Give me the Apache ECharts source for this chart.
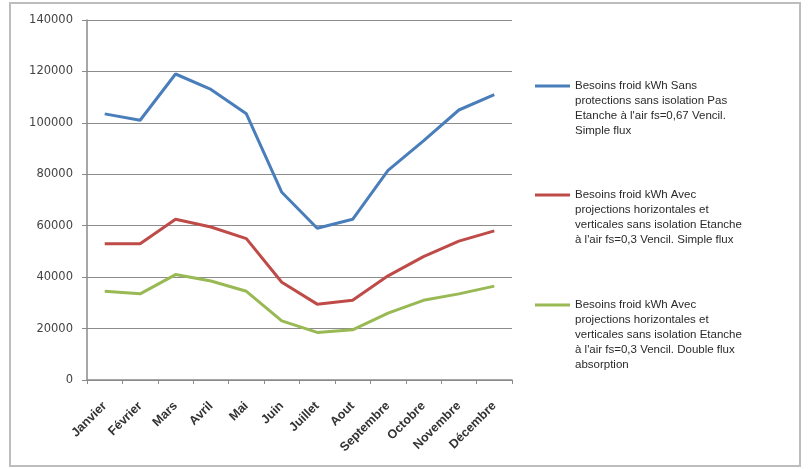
<!DOCTYPE html>
<html>
<head>
<meta charset="utf-8">
<script src="https://cdn.jsdelivr.net/npm/echarts@6/dist/echarts.min.js"></script>
<style>
  html, body { margin: 0; padding: 0; background: #fff; }
  #chart { width: 808px; height: 469px; }
</style>
</head>
<body>
<div id="chart"></div>
<script>
// Monthly cooling needs (kWh) for three building configurations
const months = ['Janvier', 'Février', 'Mars', 'Avril', 'Mai', 'Juin', 'Juillet', 'Aout', 'Septembre', 'Octobre', 'Novembre', 'Décembre'];

const nameSansProtection = 'Besoins froid kWh Sans protections sans isolation Pas Etanche à l\'air fs=0,67 Vencil. Simple flux';
const nameSimpleFlux = 'Besoins froid kWh Avec projections horizontales et verticales sans isolation Etanche à l\'air fs=0,3 Vencil. Simple flux';
const nameDoubleFlux = 'Besoins froid kWh Avec projections horizontales et verticales sans isolation Etanche à l\'air fs=0,3 Vencil. Double flux absorption';

const sansProtection = [103500, 101000, 119000, 113000, 103500, 73000, 59000, 62500, 81500, 93000, 105000, 111000];
const simpleFlux = [53000, 53000, 62500, 59500, 55000, 38000, 29500, 31000, 40500, 48000, 54000, 58000];
const doubleFlux = [34500, 33500, 41000, 38500, 34500, 23000, 18500, 19500, 26000, 31000, 33500, 36500];

const yTicks = [0, 20000, 40000, 60000, 80000, 100000, 120000, 140000];

// Wrapped legend text, one entry per line
const legendLines = {};
legendLines[nameSansProtection] = ['Besoins froid kWh Sans', 'protections sans isolation Pas', 'Etanche à l\'air fs=0,67 Vencil.', 'Simple flux'];
legendLines[nameSimpleFlux] = ['Besoins froid kWh Avec', 'projections horizontales et', 'verticales sans isolation Etanche', 'à l\'air fs=0,3 Vencil. Simple flux'];
legendLines[nameDoubleFlux] = ['Besoins froid kWh Avec', 'projections horizontales et', 'verticales sans isolation Etanche', 'à l\'air fs=0,3 Vencil. Double flux', 'absorption'];

const LINE_H = 15;
// iconY: vertical position of the legend line; the first text line sits level with it
function legendFor(name, iconY) {
  const lines = legendLines[name];
  const pad = new Array(lines.length - 1).fill(' ');
  const blockH = (2 * lines.length - 1) * LINE_H;
  return {
    data: [name],
    orient: 'vertical',
    left: 535,
    top: iconY - blockH / 2,
    padding: 0,
    icon: 'rect',
    itemWidth: 35,
    itemHeight: 3,
    itemGap: 0,
    formatter: function () { return pad.concat(lines).join('\n'); },
    textStyle: {
      fontFamily: 'Liberation Sans, Arial, sans-serif',
      fontSize: 11.5,
      color: '#2a2a2a',
      lineHeight: LINE_H
    }
  };
}

const chart = echarts.init(document.getElementById('chart'), null, { renderer: 'canvas' });

chart.setOption({
  animation: false,
  backgroundColor: '#ffffff',
  graphic: [{
    type: 'rect',
    shape: { x: 10, y: 3, width: 790, height: 463 },
    style: { fill: 'none', stroke: '#bdbdbd', lineWidth: 2 },
    silent: true,
    z: -10
  }],
  grid: { left: 87, right: 296, top: 20, bottom: 89 },
  legend: [
    legendFor(nameSansProtection, 86),
    legendFor(nameSimpleFlux, 195),
    legendFor(nameDoubleFlux, 305)
  ],
  xAxis: {
    type: 'category',
    data: months,
    boundaryGap: true,
    axisLine: { lineStyle: { color: '#8a8a8a', width: 1.5 } },
    axisTick: { show: true, length: 4, lineStyle: { color: '#8a8a8a' } },
    axisLabel: {
      interval: 0,
      rotate: 45,
      margin: 24,
      fontFamily: 'Liberation Sans, Arial, sans-serif',
      fontSize: 12.5,
      fontWeight: 'bold',
      color: '#333'
    },
    splitLine: { show: false }
  },
  yAxis: {
    type: 'value',
    min: yTicks[0],
    max: yTicks[yTicks.length - 1],
    interval: yTicks[1] - yTicks[0],
    axisLine: { show: true, lineStyle: { color: '#8a8a8a', width: 1.5 } },
    axisTick: { show: true, length: 5, lineStyle: { color: '#8a8a8a' } },
    axisLabel: {
      margin: 14,
      fontFamily: 'DejaVu Sans, sans-serif',
      fontSize: 11.5,
      color: '#444',
      formatter: function (v) { return String(v); }
    },
    splitLine: { show: true, lineStyle: { color: '#8c8c8c', width: 1.2 } }
  },
  series: [
    { name: nameSansProtection, type: 'line', data: sansProtection, symbol: 'none',
      lineStyle: { color: '#4A7EBB', width: 3 }, itemStyle: { color: '#4A7EBB' } },
    { name: nameSimpleFlux, type: 'line', data: simpleFlux, symbol: 'none',
      lineStyle: { color: '#BE4B48', width: 3 }, itemStyle: { color: '#BE4B48' } },
    { name: nameDoubleFlux, type: 'line', data: doubleFlux, symbol: 'none',
      lineStyle: { color: '#98B954', width: 3 }, itemStyle: { color: '#98B954' } }
  ]
});
</script>
</body>
</html>
